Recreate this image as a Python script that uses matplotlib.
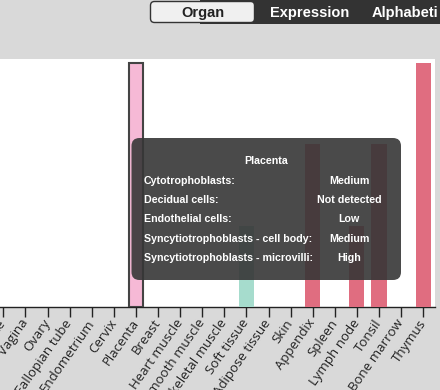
import matplotlib
matplotlib.use("Agg")
import matplotlib.pyplot as plt
from matplotlib.patches import FancyBboxPatch, Rectangle

# ---- data ----
tissues = ["Prostate", "Vagina", "Ovary", "Fallopian tube", "Endometrium", "Cervix",
           "Placenta", "Breast", "Heart muscle", "Smooth muscle", "Skeletal muscle",
           "Soft tissue", "Adipose tissue", "Skin", "Appendix", "Spleen", "Lymph node",
           "Tonsil", "Bone marrow", "Thymus"]
levels = [0, 0, 0, 0, 0, 0, 3, 0, 0, 0, 0, 1, 0, 0, 2, 0, 1, 2, 0, 3]
bar_colors = ["#e06d80"] * 6 + ["#f6b9d6"] + ["#e06d80"] * 4 + ["#a6dccd"] + ["#e06d80"] * 8
highlight = "Placenta"

tooltip_title = "Placenta"
tooltip_cells = ["Cytotrophoblasts:", "Decidual cells:", "Endothelial cells:",
                 "Syncytiotrophoblasts - cell body:", "Syncytiotrophoblasts - microvilli:"]
tooltip_values = ["Medium", "Not detected", "Low", "Medium", "High"]

buttons = ["Organ", "Expression", "Alphabeti"]

W, H = 440, 390
fig = plt.figure(figsize=(W / 100, H / 100), dpi=100)
fig.patch.set_facecolor("#d9d9d9")

def fx(px):
    return px / W

def fy(py):
    return 1 - py / H

ax_left, ax_right, ax_top, ax_bottom = 0, 435, 58.5, 306.7
ax = fig.add_axes([fx(ax_left), fy(ax_bottom), fx(ax_right - ax_left), (ax_bottom - ax_top) / H])
ax.set_facecolor("white")

x = list(range(len(tissues)))
for i, (t, v, c) in enumerate(zip(tissues, levels, bar_colors)):
    if v <= 0:
        continue
    if t == highlight:
        ax.bar(i, v, width=0.62, color=c, edgecolor="#444444", linewidth=1.5, zorder=3)
    else:
        ax.bar(i, v, width=0.68, color=c, edgecolor="none", zorder=3)

spacing = 22.1
first_tick_px = 3.3
ax.set_xlim((ax_left - first_tick_px) / spacing, (ax_right - first_tick_px) / spacing)
ax.set_ylim(0, 3 * (ax_bottom - ax_top) / (ax_bottom - 63.3))
ax.set_xticks(x)
ax.set_xticklabels(tissues, rotation=55, ha="right", va="center", rotation_mode="anchor",
                   fontsize=9.5, family=["Open Sans", "DejaVu Sans"], color="#222222")
ax.tick_params(axis="x", length=7, width=1, color="#222222", pad=3)
ax.set_yticks([])
for s in ["left", "right", "top"]:
    ax.spines[s].set_visible(False)
ax.spines["bottom"].set_color("#222222")
ax.spines["bottom"].set_linewidth(1)

# ---- overlay (buttons + tooltip) in pixel coords ----
ov = fig.add_axes([0, 0, 1, 1], zorder=10)
ov.set_xlim(0, W)
ov.set_ylim(H, 0)
ov.axis("off")
ov.patch.set_alpha(0)

# button bar
ov.add_patch(Rectangle((200, 0), 240, 23.5, facecolor="#333333", edgecolor="none"))
ov.add_patch(FancyBboxPatch((150.5, 1.5), 104, 21, boxstyle="round,pad=0,rounding_size=4",
                            facecolor="#f0f0f0", edgecolor="#333333", linewidth=1))
bfont = dict(family=["Liberation Sans", "DejaVu Sans"], fontweight="bold", fontsize=10.5,
             va="center")
ov.text(203, 12.5, buttons[0], color="#222222", ha="center", **bfont)
ov.text(310, 12.5, buttons[1], color="white", ha="center", **bfont)
ov.text(372, 12.5, buttons[2], color="white", ha="left", **bfont)

# tooltip
ov.add_patch(FancyBboxPatch((131.5, 138), 269.5, 142, boxstyle="round,pad=0,rounding_size=8",
                            facecolor=(0.21, 0.21, 0.21, 0.9), edgecolor="none"))
tfont = dict(family=["Liberation Sans", "DejaVu Sans"], fontweight="bold", fontsize=7.7,
             color="white", va="center")
ov.text(266, 161.5, tooltip_title, ha="center", **tfont)
row_y0, row_dy = 180.5, 19.4
for k, (cell, val) in enumerate(zip(tooltip_cells, tooltip_values)):
    yy = row_y0 + k * row_dy
    ov.text(143.5, yy, cell, ha="left", **tfont)
    ov.text(349, yy, val, ha="center", **tfont)

fig.savefig("out.png", dpi=100, facecolor=fig.get_facecolor())
